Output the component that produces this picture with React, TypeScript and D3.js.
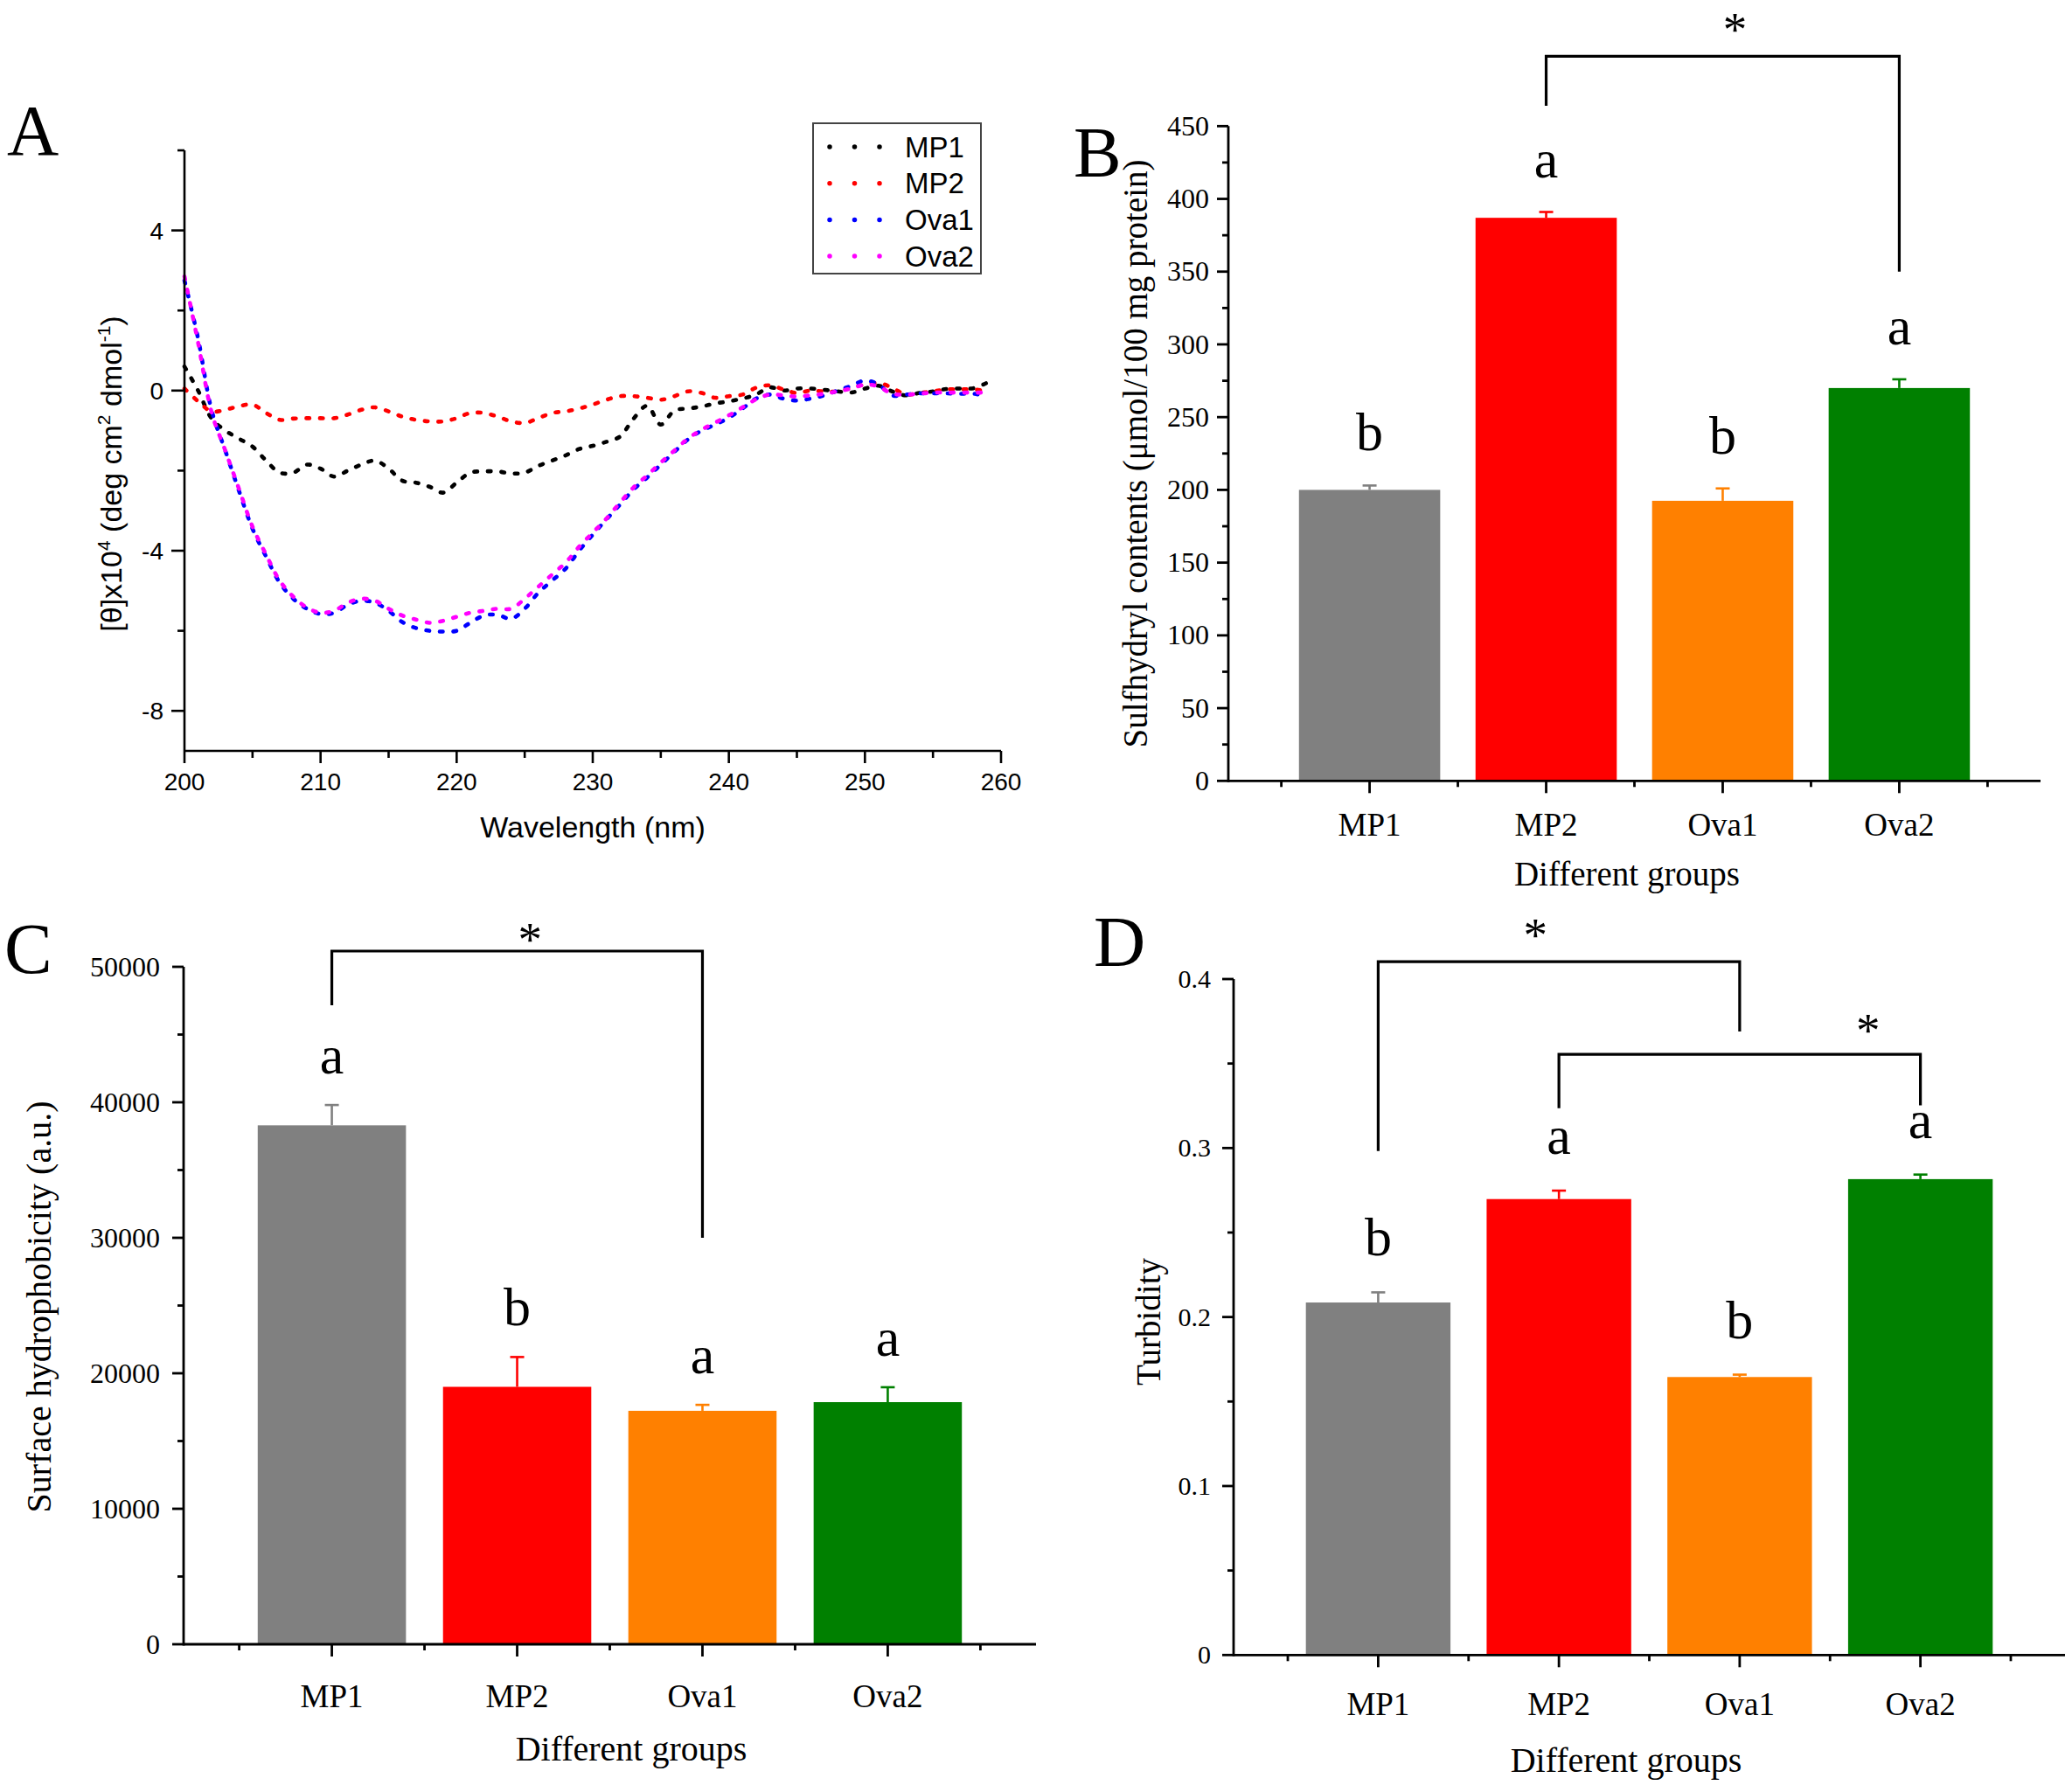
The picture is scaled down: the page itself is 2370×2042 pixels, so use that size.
import React from 'react';
import * as d3 from 'd3';

// ---------- Panel A data (CD spectra) ----------
const wavelengths = [200,201,202,203,204,205,206,207,208,209,210,211,212,213,214,215,216,217,218,219,220,221,222,223,224,225,226,227,228,229,230,231,232,233,234,235,236,237,238,239,240,241,242,243,244,245,246,247,248,249,250,251,252,253,254,255,256,257,258,259];
const cdMP1 = [0.6,0.0,-0.7,-1.0,-1.2,-1.4,-1.75,-2.05,-2.05,-1.85,-1.95,-2.15,-2.0,-1.85,-1.75,-1.95,-2.25,-2.3,-2.4,-2.55,-2.3,-2.05,-2.02,-2.02,-2.07,-2.05,-1.88,-1.75,-1.62,-1.46,-1.38,-1.28,-1.15,-0.7,-0.38,-0.85,-0.5,-0.45,-0.4,-0.32,-0.27,-0.2,-0.1,0.08,0.0,0.05,0.05,0.02,-0.02,-0.05,0.05,0.12,-0.02,-0.12,-0.06,-0.02,0.04,0.05,0.06,0.2];
const cdMP2 = [0.05,-0.27,-0.52,-0.48,-0.39,-0.35,-0.56,-0.73,-0.7,-0.69,-0.69,-0.69,-0.6,-0.48,-0.42,-0.52,-0.65,-0.73,-0.77,-0.77,-0.69,-0.56,-0.56,-0.65,-0.77,-0.81,-0.69,-0.56,-0.52,-0.45,-0.35,-0.23,-0.14,-0.14,-0.18,-0.23,-0.14,-0.02,-0.06,-0.18,-0.14,-0.1,0.07,0.13,0.03,-0.06,0,-0.02,-0.02,0.07,0.15,0.19,0.07,-0.1,-0.06,-0.02,0.03,0.03,0.03,-0.02];
const cdOva1 = [2.75,1.3,-0.5,-1.5,-2.5,-3.45,-4.15,-4.8,-5.2,-5.45,-5.58,-5.55,-5.35,-5.25,-5.3,-5.5,-5.78,-5.93,-6.0,-6.02,-6.0,-5.8,-5.62,-5.6,-5.7,-5.45,-5.05,-4.75,-4.45,-4.0,-3.6,-3.22,-2.85,-2.47,-2.17,-1.85,-1.53,-1.22,-1.0,-0.85,-0.68,-0.45,-0.2,-0.1,-0.2,-0.25,-0.2,-0.12,0,0.12,0.25,0.15,-0.12,-0.1,-0.07,-0.07,-0.07,-0.08,-0.08,-0.15];
const cdOva2 = [2.85,1.2,-0.55,-1.5,-2.45,-3.4,-4.1,-4.75,-5.15,-5.42,-5.55,-5.5,-5.3,-5.2,-5.25,-5.45,-5.62,-5.72,-5.8,-5.75,-5.65,-5.55,-5.5,-5.45,-5.45,-5.2,-4.9,-4.6,-4.3,-3.9,-3.55,-3.2,-2.8,-2.42,-2.12,-1.8,-1.5,-1.2,-0.98,-0.8,-0.62,-0.42,-0.22,-0.1,-0.12,-0.15,-0.12,-0.08,-0.02,0.05,0.15,0.1,-0.08,-0.1,-0.08,-0.05,-0.05,-0.05,-0.05,-0.05];
const cdSeriesNames = ['MP1', 'MP2', 'Ova1', 'Ova2'];
const cdSeriesColors = ['#000000', '#ff0000', '#0000ff', '#ff00ff'];
const cdXTicks = [200, 210, 220, 230, 240, 250, 260];
const cdYTicks = [4, 0, -4, -8];

// ---------- Bar panels data ----------
const categories = ['MP1', 'MP2', 'Ova1', 'Ova2'];
const barColors = ['#808080', '#ff0000', '#ff8000', '#008000'];

const sulfhydrylMean = [200, 387, 192.5, 270];
const sulfhydrylErr = [3, 4, 8.5, 6];
const sulfhydrylLetters = ['b', 'a', 'b', 'a'];
const sulfhydrylBrackets = [{ from: 2, to: 4, top: 498, fromEnd: 464, toEnd: 350, starX: 3.07, starY: 521 }];

const hydroMean = [38300, 19000, 17230, 17870];
const hydroErr = [1500, 2200, 440, 1100];
const hydroLetters = ['a', 'b', 'a', 'a'];
const hydroBrackets = [{ from: 1, to: 3, top: 51160, fromEnd: 47160, toEnd: 30000, starX: 2.07, starY: 52500 }];

const turbMean = [0.2086, 0.2698, 0.1645, 0.2816];
const turbErr = [0.006, 0.005, 0.0014, 0.0027];
const turbLetters = ['b', 'a', 'b', 'a'];
const turbBrackets = [
  { from: 1, to: 3, top: 0.4103, fromEnd: 0.2982, toEnd: 0.369, starX: 1.87, starY: 0.43 },
  { from: 2, to: 4, top: 0.3555, fromEnd: 0.3236, toEnd: 0.3253, starX: 3.71, starY: 0.3736 },
];

const SERIF = "'Liberation Serif', 'Times New Roman', Times, serif";
const SANS = "'Liberation Sans', Arial, Helvetica, sans-serif";

function PanelA() {
  const x = d3.scaleLinear().domain([200, 260]).range([211, 1145]);
  const y = d3.scaleLinear().domain([-9, 6]).range([859, 172]);
  const series = [cdMP1, cdMP2, cdOva1, cdOva2];
  const line = d3.line<number>()
    .x((_, i) => x(wavelengths[i]))
    .y((v) => y(v))
    .curve(d3.curveCatmullRom.alpha(0.5));
  const minorX = d3.range(205, 260, 10);
  const minorY = d3.range(-6, 7, 4);
  const lw = 2.6;
  return (
    <g fontFamily={SANS}>
      <text x={8} y={177} fontFamily={SERIF} fontSize={82}>A</text>
      {series.map((s, i) => (
        <path key={i} d={line(s) || ''} fill="none" stroke={cdSeriesColors[i]} strokeWidth={4.6}
          strokeDasharray="3.5 12" strokeLinecap="round" />
      ))}
      {/* axes */}
      <line x1={x(200)} x2={x(260)} y1={y(-9)} y2={y(-9)} stroke="#000" strokeWidth={lw} />
      <line x1={x(200)} x2={x(200)} y1={y(-9)} y2={y(6)} stroke="#000" strokeWidth={lw} />
      {cdXTicks.map((t) => (
        <g key={t}>
          <line x1={x(t)} x2={x(t)} y1={y(-9)} y2={y(-9) + 14} stroke="#000" strokeWidth={lw} />
          <text x={x(t)} y={904} fontSize={28} textAnchor="middle">{t}</text>
        </g>
      ))}
      {minorX.map((t) => (
        <line key={t} x1={x(t)} x2={x(t)} y1={y(-9)} y2={y(-9) + 8} stroke="#000" strokeWidth={lw} />
      ))}
      {cdYTicks.map((t) => (
        <g key={t}>
          <line x1={x(200) - 15} x2={x(200)} y1={y(t)} y2={y(t)} stroke="#000" strokeWidth={lw} />
          <text x={187} y={y(t) + 10} fontSize={28} textAnchor="end">{t}</text>
        </g>
      ))}
      {minorY.map((t) => (
        <line key={t} x1={x(200) - 8} x2={x(200)} y1={y(t)} y2={y(t)} stroke="#000" strokeWidth={lw} />
      ))}
      <text x={678} y={958} fontSize={34} textAnchor="middle">Wavelength (nm)</text>
      <text transform="translate(139,542) rotate(-90)" fontSize={34} textAnchor="middle">
        [θ]x10<tspan fontSize={21} dy={-13}>4</tspan>
        <tspan dy={13}> (deg cm</tspan>
        <tspan fontSize={21} dy={-13}>2</tspan>
        <tspan dy={13}> dmol</tspan>
        <tspan fontSize={21} dy={-13}>-1</tspan>
        <tspan dy={13}>)</tspan>
      </text>
      {/* legend */}
      <rect x={930} y={141} width={192} height={172} fill="#fff" stroke="#444" strokeWidth={2} />
      {cdSeriesNames.map((n, i) => {
        const ry = 168 + i * 41.7;
        return (
          <g key={n}>
            <path d={`M949,${ry} H1007`} stroke={cdSeriesColors[i]} strokeWidth={5.5}
              strokeDasharray="0 28.5" strokeLinecap="round" />
            <text x={1035} y={ry + 11.5} fontSize={33}>{n}</text>
          </g>
        );
      })}
    </g>
  );
}

type Bracket = { from: number; to: number; top: number; fromEnd: number; toEnd: number; starX: number; starY: number };

function BarPanel(p: {
  xRange: [number, number];
  yMax: number;
  yRange: [number, number];
  yMajor: number;
  yMinor: number;
  means: number[];
  errs: number[];
  letters: string[];
  letterGap: number;
  brackets: Bracket[];
  tickFont: number;
  tickGap: number;
  yTitle: string;
  yTitleX: number;
  yTitleY: number;
  yTitleFont: number;
  catBaseline: number;
  xTitleX: number;
  xTitleBaseline: number;
  xTitleFont: number;
  label: string;
  labelX: number;
  labelY: number;
}) {
  const x = d3.scaleLinear().domain([0.2, 4.8]).range(p.xRange);
  const y = d3.scaleLinear().domain([0, p.yMax]).range(p.yRange);
  const bw = x(0.8) - x(0);
  const lw = 2.8;
  const x0 = p.xRange[0];
  const y0 = y(0);
  const nMajor = Math.round(p.yMax / p.yMajor);
  const majors = d3.range(0, nMajor + 1).map((k) => k * p.yMajor);
  const minors = d3.range(0, nMajor).map((k) => k * p.yMajor + p.yMinor);
  const fmt = (v: number) => String(+v.toFixed(3));
  return (
    <g fontFamily={SERIF}>
      <text x={p.labelX} y={p.labelY} fontSize={82}>{p.label}</text>
      {categories.map((c, i) => {
        const cx = x(i + 1);
        const topY = y(p.means[i]);
        const errY = y(p.means[i] + p.errs[i]);
        return (
          <g key={c}>
            <rect x={cx - bw / 2} y={topY} width={bw} height={y0 - topY} fill={barColors[i]} />
            <line x1={cx} x2={cx} y1={topY} y2={errY} stroke={barColors[i]} strokeWidth={2.6} />
            <line x1={cx - 8} x2={cx + 8} y1={errY} y2={errY} stroke={barColors[i]} strokeWidth={2.6} />
            <text x={cx} y={errY - p.letterGap} fontSize={62} textAnchor="middle">{p.letters[i]}</text>
            <text x={cx} y={p.catBaseline} fontSize={37} textAnchor="middle">{c}</text>
          </g>
        );
      })}
      {/* axes */}
      <line x1={x0} x2={p.xRange[1]} y1={y0} y2={y0} stroke="#000" strokeWidth={lw} />
      <line x1={x0} x2={x0} y1={y0 + lw / 2} y2={y(p.yMax)} stroke="#000" strokeWidth={lw} />
      {majors.map((t) => (
        <g key={t}>
          <line x1={x0 - 13} x2={x0} y1={y(t)} y2={y(t)} stroke="#000" strokeWidth={lw} />
          <text x={x0 - p.tickGap} y={y(t) + p.tickFont * 0.33} fontSize={p.tickFont} textAnchor="end">{fmt(t)}</text>
        </g>
      ))}
      {minors.map((t) => (
        <line key={t} x1={x0 - 7} x2={x0} y1={y(t)} y2={y(t)} stroke="#000" strokeWidth={lw} />
      ))}
      {[1, 2, 3, 4].map((t) => (
        <line key={t} x1={x(t)} x2={x(t)} y1={y0} y2={y0 + 14} stroke="#000" strokeWidth={lw} />
      ))}
      {[0.5, 1.5, 2.5, 3.5, 4.5].map((t) => (
        <line key={t} x1={x(t)} x2={x(t)} y1={y0} y2={y0 + 7} stroke="#000" strokeWidth={lw} />
      ))}
      {/* significance brackets */}
      {p.brackets.map((b, i) => (
        <g key={i}>
          <path d={`M${x(b.from)},${y(b.fromEnd)} V${y(b.top)} H${x(b.to)} V${y(b.toEnd)}`}
            fill="none" stroke="#000" strokeWidth={3.2} />
          <text x={x(b.starX)} y={y(b.starY) + 26} fontSize={55} textAnchor="middle">*</text>
        </g>
      ))}
      <text transform={`translate(${p.yTitleX},${p.yTitleY}) rotate(-90)`} fontSize={p.yTitleFont} textAnchor="middle">{p.yTitle}</text>
      <text x={p.xTitleX} y={p.xTitleBaseline} fontSize={p.xTitleFont} textAnchor="middle">Different groups</text>
    </g>
  );
}

export default function App() {
  return (
    <svg width={2370} height={2042} viewBox="0 0 2370 2042"
      style={{ position: 'absolute', left: 0, top: 0, display: 'block', background: '#fff' }}>
      <rect x={0} y={0} width={2370} height={2042} fill="#fff" />
      <PanelA />
      <BarPanel xRange={[1405, 2334]} yMax={450} yRange={[893.3, 144.3]} yMajor={50} yMinor={25}
        means={sulfhydrylMean} errs={sulfhydrylErr} letters={sulfhydrylLetters} letterGap={40}
        brackets={sulfhydrylBrackets} tickFont={32} tickGap={22}
        yTitle="Sulfhydryl contents (μmol/100 mg protein)" yTitleX={1312} yTitleY={519} yTitleFont={39}
        catBaseline={956} xTitleX={1861} xTitleBaseline={1013} xTitleFont={39}
        label="B" labelX={1228} labelY={202} />
      <BarPanel xRange={[210, 1185]} yMax={50000} yRange={[1881, 1106]} yMajor={10000} yMinor={5000}
        means={hydroMean} errs={hydroErr} letters={hydroLetters} letterGap={36}
        brackets={hydroBrackets} tickFont={32} tickGap={27}
        yTitle="Surface hydrophobicity (a.u.)" yTitleX={58} yTitleY={1495} yTitleFont={40}
        catBaseline={1953} xTitleX={722} xTitleBaseline={2014} xTitleFont={40}
        label="C" labelX={5} labelY={1113} />
      <BarPanel xRange={[1411, 2362]} yMax={0.4} yRange={[1893.3, 1120]} yMajor={0.1} yMinor={0.05}
        means={turbMean} errs={turbErr} letters={turbLetters} letterGap={42}
        brackets={turbBrackets} tickFont={30} tickGap={26}
        yTitle="Turbidity" yTitleX={1327} yTitleY={1512} yTitleFont={39}
        catBaseline={1962} xTitleX={1860} xTitleBaseline={2027} xTitleFont={40}
        label="D" labelX={1251} labelY={1105} />
    </svg>
  );
}
